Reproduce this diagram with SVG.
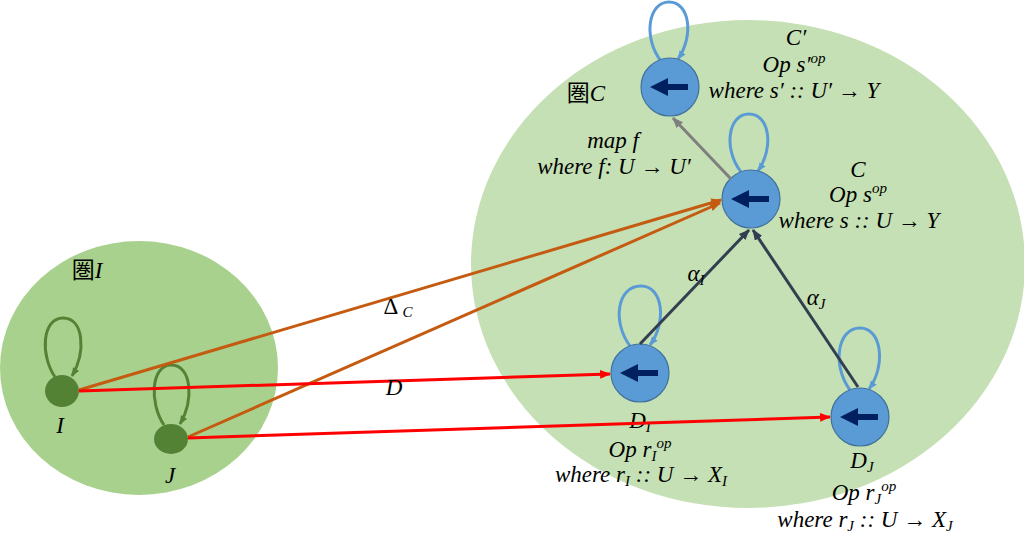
<svg xmlns="http://www.w3.org/2000/svg" width="1024" height="543" viewBox="0 0 1024 543">
<defs>
<style>
.t{font-family:"Liberation Serif","Noto Sans CJK JP",serif;font-style:italic;font-size:23px;fill:#000;text-anchor:middle}
.k{font-style:normal}
.sub{font-size:15px}
.bn{fill:#5b9bd5;stroke:#41719c;stroke-width:1.2}
.gn{fill:#548235}
.ia{fill:#002060}
.bl{fill:none;stroke:#5b9bd5;stroke-width:3}
.gl{fill:none;stroke:#548235;stroke-width:3}
</style>
<marker id="mB" viewBox="0 0 10 8" refX="9" refY="4" markerWidth="9" markerHeight="8" markerUnits="userSpaceOnUse" orient="auto"><path d="M0 0L10 4L0 8z" fill="#5b9bd5"/></marker>
<marker id="mG" viewBox="0 0 10 8" refX="9" refY="4" markerWidth="9" markerHeight="8" markerUnits="userSpaceOnUse" orient="auto"><path d="M0 0L10 4L0 8z" fill="#548235"/></marker>
<marker id="mO" viewBox="0 0 10 8" refX="9" refY="4" markerWidth="11" markerHeight="9" markerUnits="userSpaceOnUse" orient="auto"><path d="M0 0L10 4L0 8z" fill="#c55a11"/></marker>
<marker id="mR" viewBox="0 0 10 8" refX="9" refY="4" markerWidth="11" markerHeight="9" markerUnits="userSpaceOnUse" orient="auto"><path d="M0 0L10 4L0 8z" fill="#ff0000"/></marker>
<marker id="mD" viewBox="0 0 10 8" refX="9" refY="4" markerWidth="11" markerHeight="9" markerUnits="userSpaceOnUse" orient="auto"><path d="M0 0L10 4L0 8z" fill="#333f50"/></marker>
<marker id="mY" viewBox="0 0 10 8" refX="9" refY="4" markerWidth="11" markerHeight="9" markerUnits="userSpaceOnUse" orient="auto"><path d="M0 0L10 4L0 8z" fill="#7f7f7f"/></marker>
<path id="inner" d="M-20 0L-2 -9L-2 -3L18 -3L18 3L-2 3L-2 9z"/>
</defs>

<g id="catC">
<ellipse cx="748" cy="264" rx="277" ry="244" fill="#c5e0b4"/>
<text class="t" x="586" y="101"><tspan class="k">圏</tspan>C</text>
</g>
<g id="catI">
<ellipse cx="139" cy="368" rx="139" ry="127" fill="#a9d18e"/>
<text class="t" x="87" y="278"><tspan class="k">圏</tspan>I</text>
</g>

<g id="nodeI">
<path class="gl" d="M55 377C40 355 42 318 63 318C84 318 86 352 72 376" marker-end="url(#mG)"/>
<ellipse class="gn" cx="62" cy="391" rx="17" ry="16"/>
<text class="t" x="60" y="433">I</text>
</g>
<g id="nodeJ">
<path class="gl" d="M164 425C149 403 151 365 171 365C192 365 194 400 180 424" marker-end="url(#mG)"/>
<ellipse class="gn" cx="171" cy="439" rx="17" ry="15"/>
<text class="t" x="170" y="483">J</text>
</g>

<g id="nodeCp">
<path class="bl" d="M661 61C643 38 648 2 669 2C690 2 694 36 678 59" marker-end="url(#mB)"/>
<circle class="bn" cx="670" cy="87" r="29"/>
<use href="#inner" class="ia" transform="translate(670 87)"/>
<text class="t" x="796" y="45">C′</text>
<text class="t" x="794" y="72">Op s′<tspan class="sub" dy="-9">op</tspan></text>
<text class="t" x="794" y="98">where s′ :: U′ → Y</text>
</g>
<g id="nodeC">
<path class="bl" d="M741 172C723 149 728 114 749 114C770 114 774 148 758 171" marker-end="url(#mB)"/>
<circle class="bn" cx="751" cy="199" r="29"/>
<use href="#inner" class="ia" transform="translate(751 199)"/>
<text class="t" x="858" y="177">C</text>
<text class="t" x="858" y="202">Op s<tspan class="sub" dy="-9">op</tspan></text>
<text class="t" x="859" y="228">where s :: U → Y</text>
</g>
<g id="nodeDI">
<path class="bl" d="M630 346C612 322 617 286 641 286C663 286 667 322 650 345" marker-end="url(#mB)"/>
<circle class="bn" cx="640" cy="373" r="29"/>
<use href="#inner" class="ia" transform="translate(640 373)"/>
<text class="t" x="640" y="428">D<tspan class="sub" dy="4">I</tspan></text>
<text class="t" x="640" y="457">Op r<tspan class="sub" dy="4">I</tspan><tspan class="sub" dy="-13">op</tspan></text>
<text class="t" x="641" y="482">where r<tspan class="sub" dy="4">I</tspan><tspan dy="-4"> :: U → X</tspan><tspan class="sub" dy="4">I</tspan></text>
</g>
<g id="nodeDJ">
<path class="bl" d="M850 390C832 366 837 328 860 328C882 328 886 366 869 389" marker-end="url(#mB)"/>
<circle class="bn" cx="860" cy="417" r="29"/>
<use href="#inner" class="ia" transform="translate(860 417)"/>
<text class="t" x="862" y="468">D<tspan class="sub" dy="4">J</tspan></text>
<text class="t" x="864" y="500">Op r<tspan class="sub" dy="4">J</tspan><tspan class="sub" dy="-13">op</tspan></text>
<text class="t" x="865" y="527">where r<tspan class="sub" dy="4">J</tspan><tspan dy="-4"> :: U → X</tspan><tspan class="sub" dy="4">J</tspan></text>
</g>

<g id="connectors" fill="none" stroke-width="3">
<line x1="731" y1="179" x2="673" y2="118" stroke="#7f7f7f" marker-end="url(#mY)"/>
<text class="t" x="613" y="148">map f</text>
<text class="t" x="614" y="174">where f: U → U′</text>
<line x1="640" y1="344" x2="749" y2="230" stroke="#333f50" marker-end="url(#mD)"/>
<line x1="858" y1="387" x2="753" y2="230" stroke="#333f50" marker-end="url(#mD)"/>
<text class="t" x="696" y="281">α<tspan class="sub" dy="4">I</tspan></text>
<text class="t" x="816" y="305">α<tspan class="sub" dy="4">J</tspan></text>
<line x1="79" y1="390" x2="721" y2="200" stroke="#c55a11" marker-end="url(#mO)"/>
<line x1="188" y1="437" x2="720" y2="203" stroke="#c55a11" marker-end="url(#mO)"/>
<text class="t" x="398" y="314"><tspan class="k">Δ</tspan><tspan class="sub" dx="4" dy="3">C</tspan></text>
<line x1="79" y1="391" x2="610" y2="374" stroke="#ff0000" marker-end="url(#mR)"/>
<line x1="188" y1="438" x2="830" y2="417" stroke="#ff0000" marker-end="url(#mR)"/>
<text class="t" x="394" y="395">D</text>
</g>
</svg>
